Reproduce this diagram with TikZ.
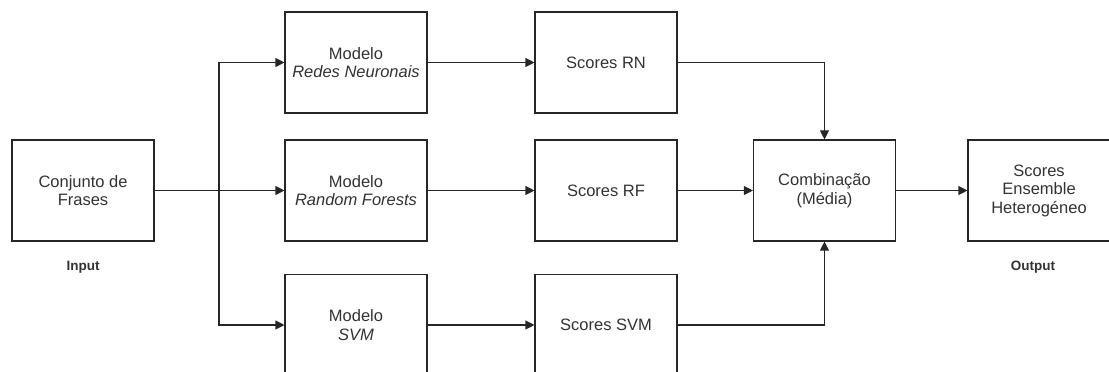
\documentclass[tikz,border=0pt]{standalone}
\usepackage{fontspec}
\setmainfont{Liberation Sans}
\usetikzlibrary{arrows.meta}
\definecolor{txt}{HTML}{333333}
\begin{document}
\begin{tikzpicture}[x=1pt,y=-1pt,
  box/.style={draw=black!85, line width=1.1pt, fill=white, minimum width=142pt, minimum height=101pt,
    inner sep=0pt, text=txt, font=\fontsize{16.5}{18.5}\selectfont, align=center},
  lbl/.style={text=txt, font=\fontsize{13.5}{16}\selectfont\bfseries},
  conn/.style={draw=black!85, line width=1.1pt},
  arr/.style={conn, -{Triangle[length=9pt,width=9pt]}}]
\useasboundingbox (0,0) rectangle (1109,372);
\clip (0,0) rectangle (1109,372);
% input
\node[box] (in) at (83,190.5) {Conjunto de\\Frases};
\node[lbl] (inl) at (83,267) {Input};
% models
\node[box] (rn) at (356,62.5) {Modelo\\\textit{Redes Neuronais}};
\node[box] (rf) at (356,190.5) {Modelo\\\textit{Random Forests}};
\node[box] (svm) at (356,325) {Modelo\\\textit{SVM}};
% scores
\node[box] (srn) at (606,62.5) {Scores RN};
\node[box] (srf) at (606,190.5) {Scores RF};
\node[box] (ssvm) at (606,325) {Scores SVM};
% combination and output
\node[box] (comb) at (824.5,190.5) {Combinação\\(Média)};
\node[box] (out) at (1039,190.5) {Scores\\Ensemble\\Heterogéneo};
\node[lbl] (outl) at (1033,267) {Output};
% fan-out from input
\coordinate (split) at (219,190.5);
\draw[arr] (in.east) -- (rf.west);
\draw[arr] (split) |- (rn.west);
\draw[arr] (split) |- (svm.west);
% models to scores
\draw[arr] (rn) -- (srn);
\draw[arr] (rf) -- (srf);
\draw[arr] (svm) -- (ssvm);
% scores to combination
\draw[arr] (srn.east) -| (comb.north);
\draw[arr] (srf) -- (comb);
\draw[arr] (ssvm.east) -| (comb.south);
\draw[arr] (comb) -- (out);
\end{tikzpicture}
\end{document}
